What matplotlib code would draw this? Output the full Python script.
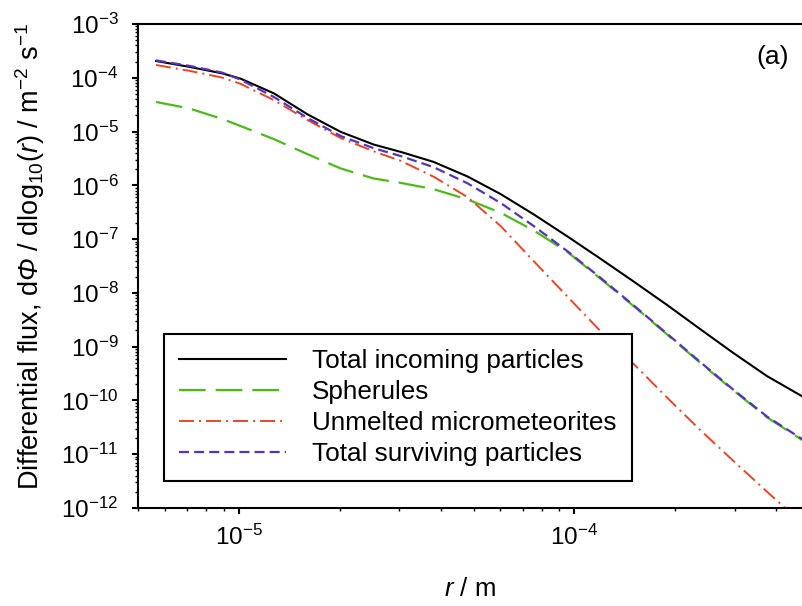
import matplotlib
matplotlib.use("Agg")
import matplotlib.pyplot as plt
from matplotlib.ticker import LogLocator, NullFormatter

plt.rcParams['font.family'] = ['Liberation Sans', 'DejaVu Sans']
plt.rcParams['mathtext.fontset'] = 'custom'
plt.rcParams['mathtext.rm'] = 'Liberation Sans'
plt.rcParams['mathtext.it'] = 'Liberation Sans:italic'
plt.rcParams['mathtext.sf'] = 'Liberation Sans:italic'  # used for the slanted Phi
plt.rcParams['mathtext.default'] = 'regular'

# particle radius / m
r = [5.66e-6, 7.1e-6, 8.9e-6, 1.01e-5, 1.27e-5, 1.6e-5, 2.01e-5, 2.52e-5, 3.04e-5,
     3.8e-5, 4.8e-5, 6.03e-5, 7.56e-5, 9.53e-5, 1.19e-4, 1.5e-4, 1.89e-4, 2.37e-4,
     2.97e-4, 3.75e-4, 4.81e-4]

# differential flux, m^-2 s^-1
total_incoming = [2.05e-4, 1.60e-4, 1.21e-4, 9.66e-5, 5.14e-5, 2.09e-5, 9.86e-6, 5.74e-6,
                  4.17e-6, 2.73e-6, 1.46e-6, 6.85e-7, 2.88e-7, 1.12e-7, 4.40e-8, 1.63e-8,
                  5.93e-9, 2.12e-9, 7.69e-10, 2.83e-10, 1.16e-10]
spherules = [3.55e-5, 2.70e-5, 1.72e-5, 1.27e-5, 7.24e-6, 3.80e-6, 2.06e-6, 1.34e-6,
             1.11e-6, 8.49e-7, 5.46e-7, 3.08e-7, 1.45e-7, 5.75e-8, 1.88e-8, 5.69e-9,
             1.68e-9, 5.01e-10, 1.55e-10, 4.84e-11, 1.78e-11]
unmelted = [1.73e-4, 1.35e-4, 1.01e-4, 7.74e-5, 3.85e-5, 1.64e-5, 7.55e-6, 4.30e-6,
            2.84e-6, 1.45e-6, 6.03e-7, 1.74e-7, 3.89e-8, 8.51e-9, 2.0e-9, 4.79e-10,
            1.12e-10, 2.82e-11, 7.59e-12, 2.0e-12, 5.0e-13]
total_surviving = [2.10e-4, 1.67e-4, 1.25e-4, 9.25e-5, 4.40e-5, 1.79e-5, 8.24e-6, 4.91e-6,
                   3.49e-6, 2.18e-6, 1.09e-6, 4.68e-7, 1.75e-7, 5.94e-8, 1.95e-8, 5.87e-9,
                   1.73e-9, 5.18e-10, 1.60e-10, 5.0e-11, 1.85e-11]

fig = plt.figure(figsize=(8.03, 6.06), dpi=100)
ax = fig.add_axes([138/803, 1 - 508/606, (809 - 138)/803, (508 - 24)/606])

ax.plot(r, total_incoming, color='black', lw=1.5, label='Total incoming particles')
ax.plot(r, spherules, color='#4cbb17', lw=1.6, dashes=(12, 4.5), label='Spherules')
ax.plot(r, unmelted, color='#ee4422', lw=1.4, dashes=(7.7, 2.6, 1, 2.6),
        label='Unmelted micrometeorites')
ax.plot(r, total_surviving, color='#5533bb', lw=1.6, dashes=(4.5, 2.3),
        label='Total surviving particles')

ax.set_xscale('log')
ax.set_yscale('log')
ax.set_xlim(5e-6, 5e-4)
ax.set_ylim(1e-12, 1e-3)

ax.xaxis.set_major_locator(LogLocator(base=10, numticks=10))
ax.xaxis.set_minor_locator(LogLocator(base=10, subs=range(2, 10), numticks=20))
ax.yaxis.set_major_locator(LogLocator(base=10, numticks=20))
ax.yaxis.set_minor_locator(LogLocator(base=10, subs=range(2, 10), numticks=40))
ax.xaxis.set_minor_formatter(NullFormatter())
ax.yaxis.set_minor_formatter(NullFormatter())

ax.tick_params(which='major', direction='out', length=4, width=1.5, labelsize=17.5)
ax.tick_params(axis='x', which='major', pad=8)
ax.tick_params(axis='y', which='major', pad=10)
ax.tick_params(which='minor', direction='out', length=2.5, width=1.0)
for s in ax.spines.values():
    s.set_linewidth(1.5)

ax.set_ylabel(r'Differential flux, d$\mathsf{\Phi}$ / dlog$_{10}$($\mathit{r}$) / m$^{-2}$ s$^{-1}$',
              fontsize=19.5)
ax.yaxis.set_label_coords(-0.135, 0.52)
ax.set_xlabel(r'$\mathit{r}$ / m', fontsize=18.5)
ax.xaxis.set_label_coords(0.495, -0.143)

ax.text(0.946, 0.932, '(a)', transform=ax.transAxes, fontsize=19, ha='center', va='center')

leg = ax.legend(loc='lower left', bbox_to_anchor=(0.0387, 0.0558), borderaxespad=0,
                fontsize=18.8, handlelength=4.1, handletextpad=1.0, borderpad=0.58,
                labelspacing=0.27, fancybox=False, framealpha=1, edgecolor='black')
leg.get_frame().set_linewidth(1.5)

fig.savefig('out.png', dpi=100)
